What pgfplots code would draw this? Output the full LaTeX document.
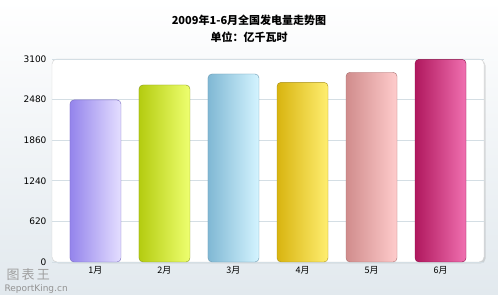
\documentclass[border=0pt]{standalone}
\usepackage{pgfplots}
\pgfplotsset{compat=1.18}
\usepackage{fontspec}
\setmainfont{DejaVu Sans}
\newfontfamily\cjk{Noto Sans CJK SC}
\newfontfamily\cjkb{Noto Sans CJK SC Black}
\usetikzlibrary{shadows}
\definecolor{bgbot}{HTML}{E2E9EE}
\definecolor{grid}{HTML}{D4DEE4}
\definecolor{aL}{HTML}{9484EC}\definecolor{aM}{HTML}{B2A6F6}\definecolor{aR}{HTML}{E4DEFF}\definecolor{aD}{HTML}{7A6CC0}
\definecolor{bL}{HTML}{B4CC10}\definecolor{bM}{HTML}{D4EC28}\definecolor{bR}{HTML}{EEFF70}\definecolor{bD}{HTML}{8A9A20}
\definecolor{cL}{HTML}{80B8D4}\definecolor{cM}{HTML}{A8D8EC}\definecolor{cR}{HTML}{D4F4FF}\definecolor{cD}{HTML}{6A98B0}
\definecolor{dL}{HTML}{D8B410}\definecolor{dM}{HTML}{F0D020}\definecolor{dR}{HTML}{FFEE70}\definecolor{dD}{HTML}{A8901A}
\definecolor{eL}{HTML}{D08C8C}\definecolor{eM}{HTML}{E8AAAA}\definecolor{eR}{HTML}{FFCCCC}\definecolor{eD}{HTML}{A87070}
\definecolor{fL}{HTML}{B0185E}\definecolor{fM}{HTML}{D03888}\definecolor{fR}{HTML}{F070B0}\definecolor{fD}{HTML}{8A1048}
\begin{document}
\begin{tikzpicture}[x=1pt,y=1pt]
\shade[top color=white, bottom color=bgbot] (0,0) rectangle (498,295);
\node[font=\cjkb\fontsize{11}{17}\selectfont, align=center] at (249,266) {2009年1-6月全国发电量走势图\\单位：亿千瓦时};
\node[font=\cjk\fontsize{13}{13}\selectfont, text=gray!75, anchor=west] at (3,20) {图\,表\,王};
\node[font=\fontsize{9}{10}\selectfont, text=gray!85, anchor=west] at (1,6) {ReportKing.cn};
\begin{axis}[
  at={(52pt,33pt)}, anchor=south west,
  scale only axis, width=432pt, height=203pt,
  xmin=-0.63, xmax=5.63, ymin=0, ymax=3100,
  ybar, bar width=51pt, bar shift=0pt,
  xtick={0,1,2,3,4,5},
  xticklabels={1月,2月,3月,4月,5月,6月},
  x tick label style={font=\cjk\fontsize{9}{10}\selectfont, yshift=-1pt},
  ytick={0,620,1240,1860,2480,3100},
  y tick label style={font=\fontsize{9}{10}\selectfont, xshift=-2pt},
  /pgf/number format/assume math mode=true,
  /pgf/number format/set thousands separator={},
  xmajorgrids=false, ymajorgrids, 
  y grid style={grid, line width=0.6pt},
  tick style={draw=none},
  major tick length=0pt,
  axis line style={draw=none},
  axis background/.style={fill=white, rounded corners=5pt, draw=gray!35, drop shadow={shadow xshift=1.5pt, shadow yshift=-1.5pt, opacity=0.25}},
  clip=false,
]
\addplot[draw=aD, rounded corners=4pt, left color=aL, middle color=aM, right color=aR] coordinates {(0,2475)};
\addplot[draw=bD, rounded corners=4pt, left color=bL, middle color=bM, right color=bR] coordinates {(1,2703)};
\addplot[draw=cD, rounded corners=4pt, left color=cL, middle color=cM, right color=cR] coordinates {(2,2871)};
\addplot[draw=dD, rounded corners=4pt, left color=dL, middle color=dM, right color=dR] coordinates {(3,2744)};
\addplot[draw=eD, rounded corners=4pt, left color=eL, middle color=eM, right color=eR] coordinates {(4,2897)};
\addplot[draw=fD, rounded corners=4pt, left color=fL, middle color=fM, right color=fR] coordinates {(5,3095)};
\end{axis}
\end{tikzpicture}
\end{document}
